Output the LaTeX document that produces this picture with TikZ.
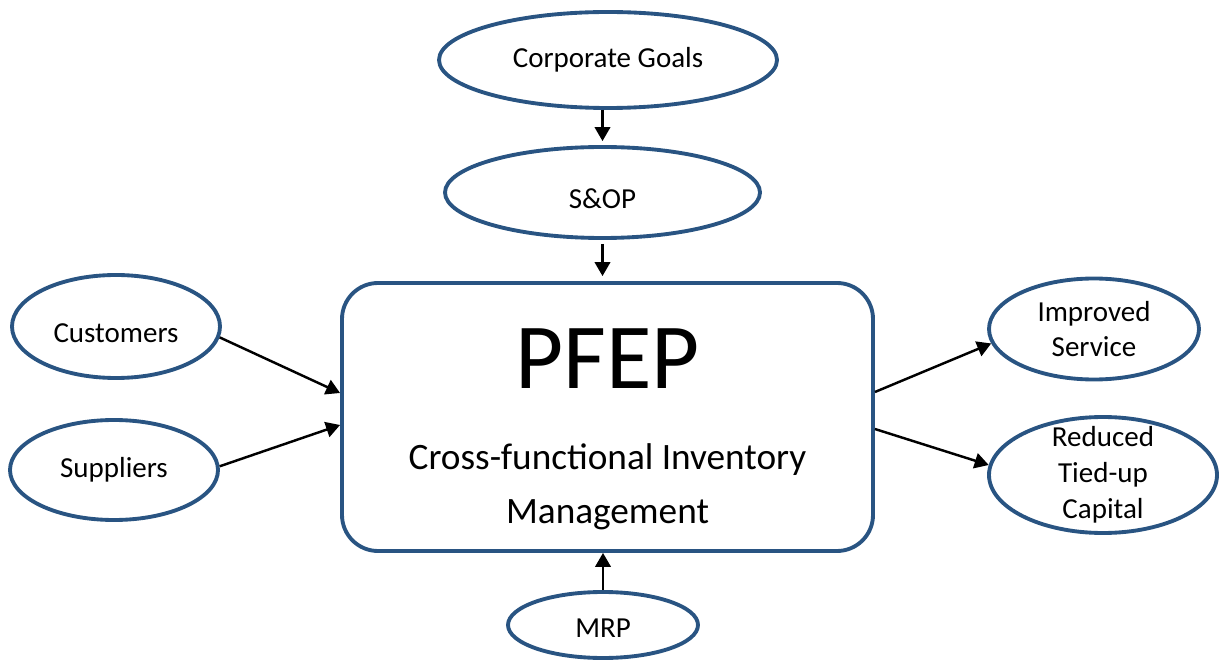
\documentclass[tikz,border=0pt]{standalone}
\usepackage{fontspec}
\setmainfont{Carlito}
\usetikzlibrary{arrows.meta, positioning, shapes.geometric}
\definecolor{edgeblue}{RGB}{41,84,130}

\begin{document}
\begin{tikzpicture}[
        ell/.style   = {draw=edgeblue, line width=2.2pt, ellipse, inner xsep=0pt, inner ysep=-3mm, align=center, font=\fontsize{16.5}{20.4}\selectfont},
        box/.style   = {draw=edgeblue, line width=2.2pt, rounded corners=0.72cm, minimum width=10.62cm, minimum height=5.36cm, inner sep=0pt},
        title/.style = {inner sep=0pt, font=\fontsize{53}{60}\selectfont},
        desc/.style  = {inner sep=0pt, align=center, font=\fontsize{21.2}{30.5}\selectfont},
        ar/.style    = {-{Triangle[length=2.8mm, width=3.1mm]}, line width=1.4pt}
    ]
        \useasboundingbox (0,0) rectangle (24.42,-13.2);

        \node[ell, minimum width=6.76cm, minimum height=1.92cm] (goals)     at (12.16,-1.2)  {Corporate Goals};
        \node[ell, minimum width=6.3cm,  minimum height=1.82cm, text height=0.66cm] (sop) at (12.05,-3.85) {S\&OP};
        \node[box]                                              (pfep)      at (12.15,-8.34) {};
        \node[ell, minimum width=4.16cm, minimum height=2.06cm, text height=0.64cm] (customers) at (2.32,-6.53) {Customers};
        \node[ell, minimum width=4.16cm, minimum height=2.0cm]  (suppliers) at (2.28,-9.4)   {Suppliers};
        \node[ell, minimum width=4.2cm,  minimum height=2.02cm] (service)   at (21.88,-6.58) {Improved\\Service};
        \node[ell, minimum width=4.56cm, minimum height=2.32cm] (capital)   at (22.06,-9.5)  {Reduced\\Tied-up\\Capital};
        \node[ell, minimum width=3.8cm,  minimum height=1.32cm, text height=0.48cm] (mrp) at (12.06,-12.5) {MRP};

        \node[title, below=0.94cm of pfep.north] (pfeptitle) {PFEP};
        \node[desc, below=1.1cm of pfeptitle]    (pfepdesc)  {Cross-functional Inventory\\Management};

        \draw[ar, shorten >=0.08cm] (sop.north |- goals.south) -- (sop.north);
        \draw[ar, shorten <=0.08cm, shorten >=0.1cm] (sop.south) -- (sop.south |- pfep.north);
        \draw[ar] (customers.-6) -- ([yshift=0.48cm]pfep.west);
        \draw[ar] (suppliers.2)  -- ([yshift=-0.16cm]pfep.west);
        \draw[ar] ([yshift=0.5cm]pfep.east)   -- (service.188);
        \draw[ar] ([yshift=-0.24cm]pfep.east) -- (capital.175);
        \draw[ar] (mrp.north) -- (mrp.north |- pfep.south);
    \end{tikzpicture}
\end{document}
